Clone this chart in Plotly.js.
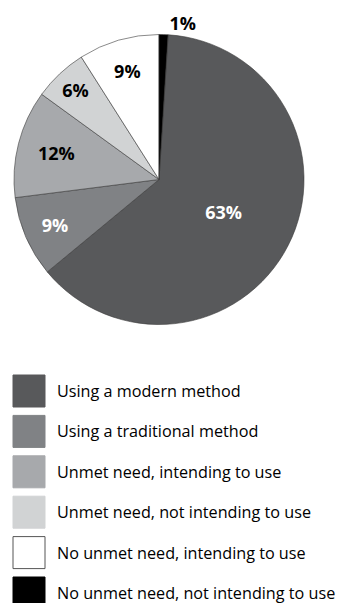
<!DOCTYPE html>
<html>
<head>
<meta charset="utf-8">
<script src="https://cdn.plot.ly/plotly-3.0.1.min.js"></script>
<style>html,body{margin:0;padding:0;background:#fff;}#chart{width:344px;height:603px;}</style>
</head>
<body>
<div id="chart"></div>
<script>
const labels = [
  "Using a modern method",
  "Using a traditional method",
  "Unmet need, intending to use",
  "Unmet need, not intending to use",
  "No unmet need, intending to use",
  "No unmet need, not intending to use"
];
const values = [63, 9, 12, 6, 9, 1];
const colors = ["#58595b", "#808285", "#a7a9ac", "#d1d3d4", "#ffffff", "#000000"];
const textColors = ["#ffffff", "#ffffff", "#000000", "#000000", "#000000", "#000000"];
const textPositions = ["inside", "inside", "inside", "inside", "inside", "outside"];

const W = 344, H = 603;
const total = values.reduce((a, b) => a + b, 0);
// last slice (black) sits just before 12 o'clock going clockwise
const rotation = values[values.length - 1] / total * 360;

const FONT = "'Open Sans', 'DejaVu Sans', sans-serif";

const trace = {
  type: "pie",
  labels: labels,
  values: values,
  sort: false,
  direction: "clockwise",
  rotation: rotation,
  marker: { colors: colors, line: { color: "#3a3a3a", width: 0.6 } },
  texttemplate: "%{value}%",
  textposition: textPositions,
  textfont: { family: FONT, size: 18, color: textColors, weight: "bold" },
  insidetextorientation: "horizontal",
  showlegend: false,
  hoverinfo: "none",
  domain: { x: [14 / W, 304 / W], y: [(H - 324.5) / H, (H - 34.5) / H] }
};

// custom legend built from the data arrays
const shapes = [], annotations = [];
const rowTop0 = 375, rowStep = 40.4, sq = 32, sqX = 13, textX = 55;
labels.forEach((lab, i) => {
  const top = rowTop0 + i * rowStep;
  shapes.push({
    type: "rect", xref: "paper", yref: "paper",
    x0: sqX / W, x1: (sqX + sq) / W,
    y0: (H - top - sq) / H, y1: (H - top) / H,
    fillcolor: colors[i],
    line: { color: colors[i] === "#ffffff" ? "#555555" : colors[i], width: 1 }
  });
  annotations.push({
    xref: "paper", yref: "paper",
    x: textX / W, y: (H - top - sq / 2) / H,
    xanchor: "left", yanchor: "middle",
    text: lab, showarrow: false,
    font: { family: FONT, size: 16.2, color: "#000000" }
  });
});

const layout = {
  width: W, height: H,
  margin: { l: 0, r: 0, t: 0, b: 0 },
  paper_bgcolor: "#ffffff",
  plot_bgcolor: "#ffffff",
  shapes: shapes,
  annotations: annotations
};

Plotly.newPlot("chart", [trace], layout, { displayModeBar: false, staticPlot: true });
</script>
</body>
</html>
